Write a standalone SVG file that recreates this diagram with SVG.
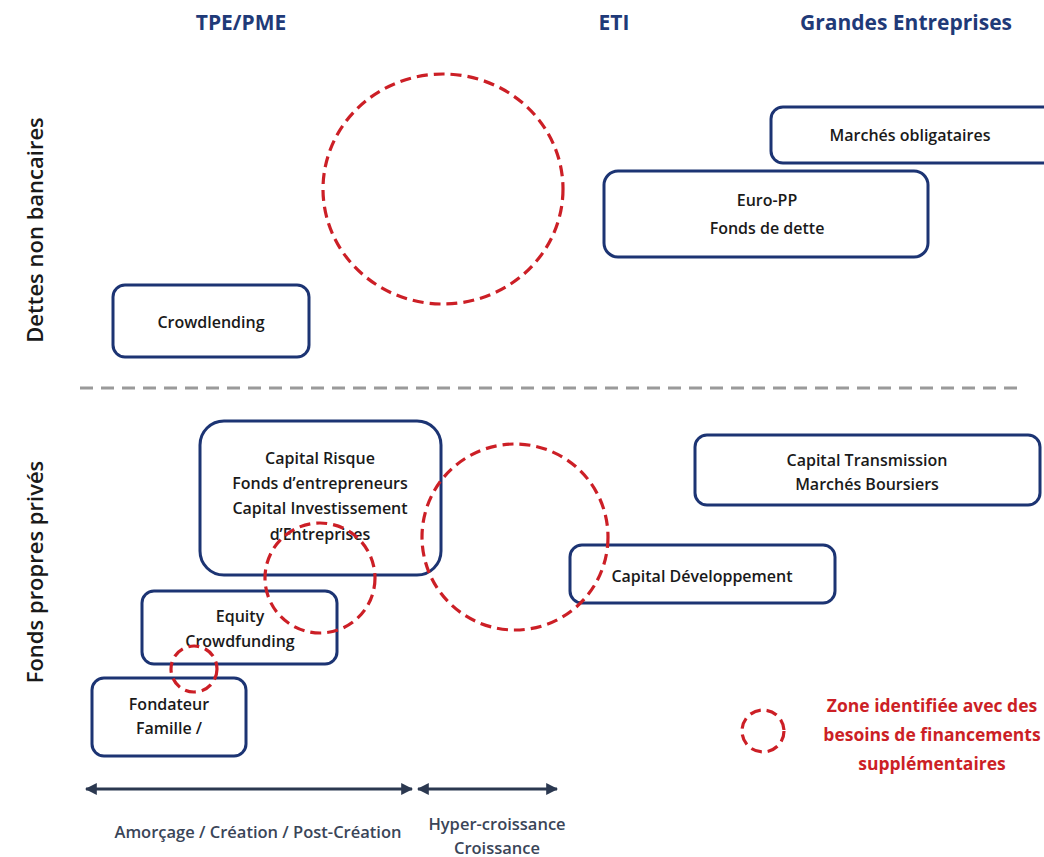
<svg xmlns="http://www.w3.org/2000/svg" width="1044" height="857" viewBox="0 0 1044 857">
<style>
.box{fill:#fff;stroke:#1c3473;stroke-width:3}
.zone{fill:none;stroke:#cc1f26;stroke-width:3.2;stroke-dasharray:11 6}
.t{font-family:"Open Sans",Lato,sans-serif;font-weight:600;font-size:16px;fill:#1a1a1a;text-anchor:middle}
.h{font-family:"Open Sans",Lato,sans-serif;font-weight:bold;font-size:21px;fill:#1f3a78;text-anchor:middle}
.side{font-family:"Open Sans",Lato,sans-serif;font-weight:600;font-size:22px;fill:#1a1a1a;text-anchor:middle}
.ax{font-family:"Open Sans",Lato,sans-serif;font-weight:600;font-size:16.5px;fill:#3a4558;text-anchor:middle}
.leg{font-family:"Open Sans",Lato,sans-serif;font-weight:bold;font-size:17.5px;fill:#cc1f26;text-anchor:middle}
</style>
<defs>
<marker id="ah" viewBox="0 0 10 10" refX="9" refY="5" markerWidth="4" markerHeight="4" orient="auto-start-reverse">
<path d="M0,0 L10,5 L0,10 z" fill="#2b3850"/>
</marker>
</defs>
<rect width="1044" height="857" fill="#fff"/>

<g id="headers">
<text class="h" x="241" y="30">TPE/PME</text>
<text class="h" x="614" y="30">ETI</text>
<text class="h" x="906" y="30">Grandes Entreprises</text>
</g>

<g id="side-labels">
<text class="side" transform="translate(43,230) rotate(-90)">Dettes non bancaires</text>
<text class="side" transform="translate(43,572) rotate(-90)">Fonds propres privés</text>
</g>

<g id="separator">
<line x1="80" y1="388" x2="1022" y2="388" stroke="#9a9a9a" stroke-width="3" stroke-dasharray="13 8"/>
</g>

<g id="n-marches-oblig">
<rect class="box" x="771" y="107" width="290" height="56" rx="12"/>
<text class="t" x="910" y="141">Marchés obligataires</text>
</g>
<g id="n-europp">
<rect class="box" x="604" y="171" width="324" height="86" rx="14"/>
<text class="t" x="767" y="206">Euro-PP</text>
<text class="t" x="767" y="234">Fonds de dette</text>
</g>
<g id="n-crowdlending">
<rect class="box" x="113" y="285" width="196" height="72" rx="12"/>
<text class="t" x="211" y="328">Crowdlending</text>
</g>
<g id="n-capital-risque">
<rect class="box" x="200" y="421" width="241" height="154" rx="24"/>
<text class="t" x="320" y="464">Capital Risque</text>
<text class="t" x="320" y="489">Fonds d’entrepreneurs</text>
<text class="t" x="320" y="514">Capital Investissement</text>
<text class="t" x="320" y="540">d’Entreprises</text>
</g>
<g id="n-equity">
<rect class="box" x="142" y="591" width="195" height="73" rx="12"/>
<text class="t" x="240" y="622">Equity</text>
<text class="t" x="240" y="647">Crowdfunding</text>
</g>
<g id="n-fondateur">
<rect class="box" x="92" y="678" width="154" height="78" rx="12"/>
<text class="t" x="169" y="710">Fondateur</text>
<text class="t" x="169" y="734">Famille /</text>
</g>
<g id="n-transmission">
<rect class="box" x="695" y="435" width="345" height="70" rx="12"/>
<text class="t" x="867" y="466">Capital Transmission</text>
<text class="t" x="867" y="490">Marchés Boursiers</text>
</g>
<g id="n-developpement">
<rect class="box" x="570" y="545" width="265" height="58" rx="12"/>
<text class="t" x="702" y="582">Capital Développement</text>
</g>

<g id="zones">
<ellipse class="zone" cx="443" cy="189" rx="120" ry="115"/>
<circle class="zone" cx="515" cy="537" r="93"/>
<circle class="zone" cx="320" cy="578" r="55"/>
<circle class="zone" cx="194" cy="669" r="23"/>
</g>

<g id="legend">
<circle class="zone" cx="763" cy="731" r="21"/>
<text class="leg" x="932" y="712">Zone identifiée avec des</text>
<text class="leg" x="932" y="741">besoins de financements</text>
<text class="leg" x="932" y="770">supplémentaires</text>
</g>

<g id="connectors">
<line x1="86" y1="789" x2="412" y2="789" stroke="#2b3850" stroke-width="3" marker-start="url(#ah)" marker-end="url(#ah)"/>
<line x1="418" y1="789" x2="557" y2="789" stroke="#2b3850" stroke-width="3" marker-start="url(#ah)" marker-end="url(#ah)"/>
</g>

<g id="axis-labels">
<text class="ax" x="258" y="838">Amorçage / Création / Post-Création</text>
<text class="ax" x="497" y="830">Hyper-croissance</text>
<text class="ax" x="497" y="854">Croissance</text>
</g>
</svg>
